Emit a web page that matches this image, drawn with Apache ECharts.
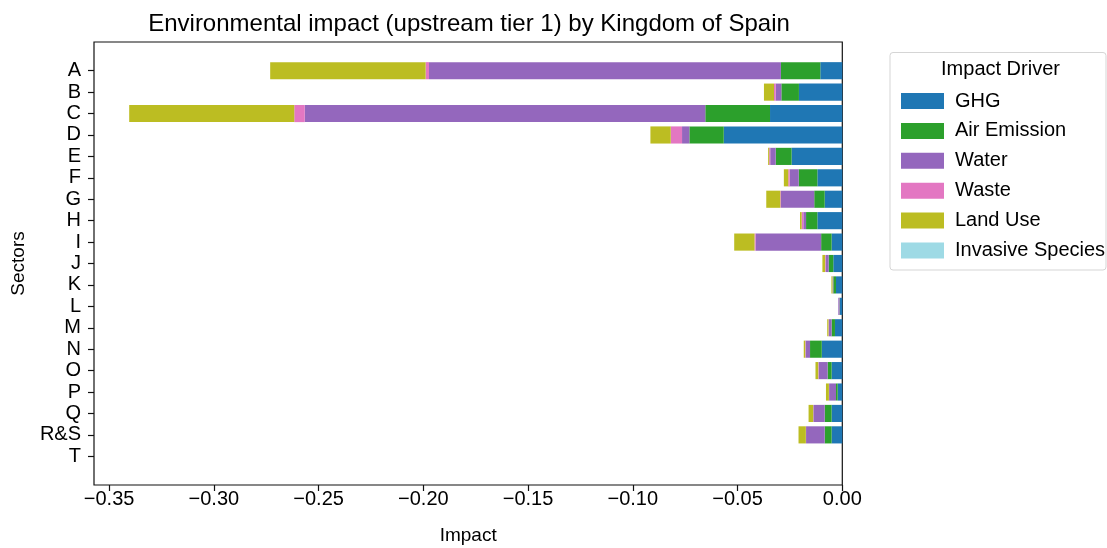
<!DOCTYPE html>
<html>
<head>
<meta charset="utf-8">
<script src="https://cdn.jsdelivr.net/npm/echarts@6/dist/echarts.min.js"></script>
<style>
  html, body { margin: 0; padding: 0; background: #fff; }
  #chart { width: 1107px; height: 548px; }
</style>
</head>
<body>
<div id="chart"></div>
<script>
// Sectors (top to bottom)
const sectors = ['A','B','C','D','E','F','G','H','I','J','K','L','M','N','O','P','Q','R&S','T'];

// Impact per driver and sector
const ghg      = [-0.0105,-0.0207,-0.0345,-0.0566,-0.0242,-0.0119,-0.0084,-0.0119,-0.0051,-0.0043,-0.0030,-0.0011,-0.0035,-0.0098,-0.0051,-0.0022,-0.0051,-0.0051,0];
const airEmission = [-0.0188,-0.0084,-0.0309,-0.0164,-0.0076,-0.0089,-0.0050,-0.0054,-0.0050,-0.0022,-0.0013,-0.0002,-0.0016,-0.0056,-0.0019,-0.0008,-0.0033,-0.0033,0];
const water    = [-0.1680,-0.0027,-0.1912,-0.0035,-0.0026,-0.0043,-0.0159,-0.0013,-0.0313,-0.0014,-0.0003,-0.0006,-0.0013,-0.0021,-0.0043,-0.0033,-0.0054,-0.0089,0];
const waste    = [-0.0016,-0.0008,-0.0050,-0.0054,-0.0005,-0.0007,-0.0003,-0.0008,-0.0005,-0.0003,-0.0001,0,-0.0002,-0.0002,-0.0002,-0.0001,-0.0001,-0.0001,0];
const landUse  = [-0.0742,-0.0048,-0.0788,-0.0097,-0.0005,-0.0021,-0.0067,-0.0008,-0.0097,-0.0013,-0.0005,0,-0.0006,-0.0007,-0.0013,-0.0014,-0.0022,-0.0035,0];
const invasiveSpecies = [0,0,0,0,0,0,0,0,0,0,0,0,0,0,0,0,0,0,0];

// Axis ticks
const xTicks = [-0.35,-0.30,-0.25,-0.20,-0.15,-0.10,-0.05,0.00];
const xMin = -0.3572, xMax = 0;

const drivers = [
  { name: 'GHG', data: ghg, color: '#1f77b4' },
  { name: 'Air Emission', data: airEmission, color: '#2ca02c' },
  { name: 'Water', data: water, color: '#9467bd' },
  { name: 'Waste', data: waste, color: '#e377c2' },
  { name: 'Land Use', data: landUse, color: '#bcbd22' },
  { name: 'Invasive Species', data: invasiveSpecies, color: '#9edae5' }
];

const FONT = '"Liberation Sans", Arial, Helvetica, sans-serif';
const fmt = v => (v < 0 ? '\u2212' : '') + Math.abs(v).toFixed(2);

const plotLeft = 94, plotWidth = 748.3, plotTop = 42, plotHeight = 443;
const barTop = 60, barHeight = 407;

const chart = echarts.init(document.getElementById('chart'), null, { renderer: 'canvas' });

chart.setOption({
  animation: false,
  backgroundColor: '#fff',
  textStyle: { fontFamily: FONT },
  title: {
    text: 'Environmental impact (upstream tier 1) by Kingdom of Spain',
    left: 464,
    textAlign: 'center',
    top: 7,
    textStyle: { fontFamily: FONT, fontSize: 24, fontWeight: 'normal', color: '#000' }
  },
  legend: {
    orient: 'vertical',
    left: 896,
    top: 86,
    itemWidth: 43,
    itemHeight: 16,
    itemGap: 9.9,
    icon: 'rect',
    data: drivers.map(d => d.name),
    textStyle: { fontFamily: FONT, fontSize: 20, color: '#000', padding: [0, 0, 0, 6] },
    selectedMode: false
  },
  graphic: [
    {
      type: 'rect',
      shape: { x: 890, y: 52.5, width: 216, height: 217.5, r: 3 },
      style: { fill: '#fff', stroke: '#d5d5d5', lineWidth: 1 },
      z: -1
    },
    {
      type: 'text',
      x: 1000.5, y: 69,
      style: { text: 'Impact Driver', fontFamily: FONT, fontSize: 20, fill: '#000', textAlign: 'center', textVerticalAlign: 'middle' }
    }
  ],
  grid: [
    { left: plotLeft, top: plotTop, width: plotWidth, height: plotHeight, show: true, borderColor: '#111', borderWidth: 1.2, backgroundColor: 'transparent', containLabel: false, outerBoundsMode: 'none' },
    { left: plotLeft, top: barTop, width: plotWidth, height: barHeight, show: false, containLabel: false, outerBoundsMode: 'none' }
  ],
  xAxis: [
    {
      gridIndex: 0, type: 'value', min: xMin, max: xMax,
      name: 'Impact', nameLocation: 'middle', nameGap: 41,
      nameTextStyle: { fontFamily: FONT, fontSize: 19, color: '#000' },
      axisLine: { show: false, onZero: false },
      splitLine: { show: false },
      axisTick: { show: true, length: 6, lineStyle: { color: '#111', width: 1.2 }, customValues: xTicks },
      axisLabel: { show: true, fontFamily: FONT, fontSize: 20, color: '#000', margin: 4, formatter: fmt, customValues: xTicks }
    },
    {
      gridIndex: 1, type: 'value', min: xMin, max: xMax, show: false,
      axisLine: { show: false, onZero: false },
      splitLine: { show: false }
    }
  ],
  yAxis: [
    {
      gridIndex: 0, type: 'value', min: 0, max: 1, show: false,
      axisLine: { show: false, onZero: false },
      splitLine: { show: false }
    },
    {
      gridIndex: 1, type: 'category', data: sectors, inverse: true, position: 'left',
      name: 'Sectors', nameLocation: 'middle', nameGap: 66, nameRotate: 90,
      nameTextStyle: { fontFamily: FONT, fontSize: 19, color: '#000' },
      axisLine: { show: false, onZero: false },
      axisTick: { show: true, alignWithLabel: true, interval: 0, length: 6, lineStyle: { color: '#111', width: 1.2 } },
      axisLabel: { fontFamily: FONT, fontSize: 20, color: '#000', margin: 13, interval: 0 },
      splitLine: { show: false }
    }
  ],
  series: drivers.map(d => ({
    name: d.name,
    type: 'bar',
    stack: 'total',
    xAxisIndex: 1,
    yAxisIndex: 1,
    barWidth: '80%',
    data: d.data.map(v => (v === 0 ? null : v)),
    itemStyle: { color: d.color },
    emphasis: { disabled: true }
  }))
});
</script>
</body>
</html>
